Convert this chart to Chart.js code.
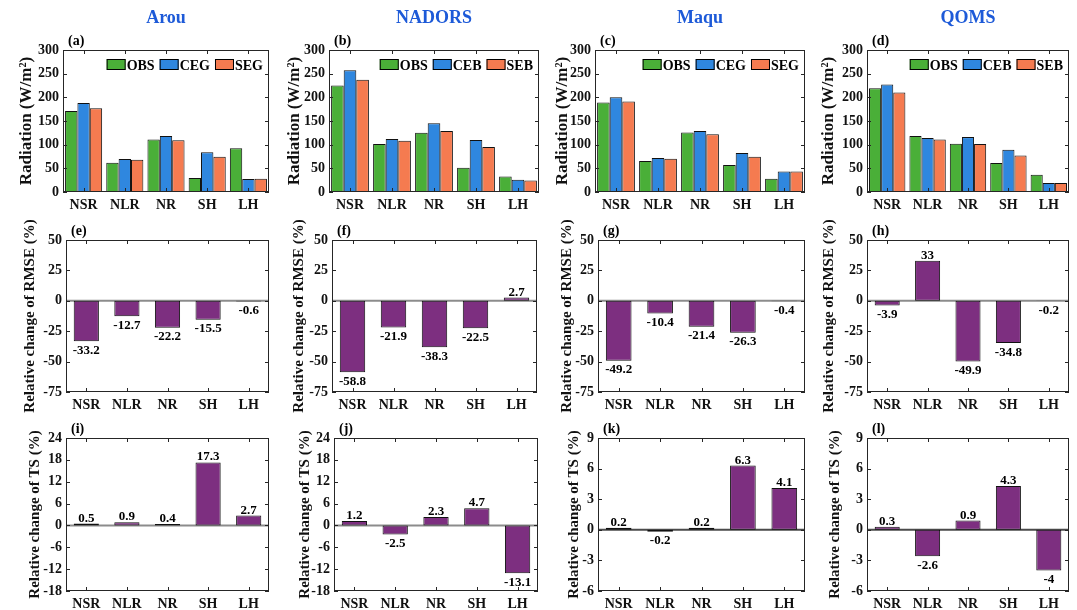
<!DOCTYPE html>
<html><head><meta charset="utf-8">
<script src="https://cdn.jsdelivr.net/npm/chart.js@4/dist/chart.umd.min.js"></script>
<style>
html,body{margin:0;padding:0;background:#fff;width:1077px;height:610px;overflow:hidden;}
#wrap{position:relative;width:1077px;height:610px;}
canvas{position:absolute;}
</style></head><body><div id="wrap"></div>
<script>
// ---------------- data ----------------
const categories = ['NSR', 'NLR', 'NR', 'SH', 'LH'];
const stations = ['Arou', 'NADORS', 'Maqu', 'QOMS'];
const panelLetters = [['(a)', '(b)', '(c)', '(d)'], ['(e)', '(f)', '(g)', '(h)'], ['(i)', '(j)', '(k)', '(l)']];
const legendNames = [['OBS', 'CEG', 'SEG'], ['OBS', 'CEB', 'SEB'], ['OBS', 'CEG', 'SEG'], ['OBS', 'CEB', 'SEB']];

const obsArou = [171, 62, 111, 29.5, 92.5];
const ceArou = [188, 69.5, 118.5, 84, 27.5];
const seArou = [177, 68, 109.5, 74.5, 28];
const obsNadors = [225, 101.5, 125, 51, 32.5];
const ceNadors = [257, 112, 145, 110, 26];
const seNadors = [237, 108.5, 129, 95, 24.5];
const obsMaqu = [189, 65.5, 125.5, 57, 28];
const ceMaqu = [200, 72, 129, 82.5, 43.5];
const seMaqu = [191, 70, 122, 74.5, 43.5];
const obsQoms = [219, 118.5, 102, 61.5, 36.5];
const ceQoms = [227, 114, 116, 89, 19];
const seQoms = [210, 111, 101.5, 77, 19];

const rmseArou = [-33.2, -12.7, -22.2, -15.5, -0.6];
const rmseNadors = [-58.8, -21.9, -38.3, -22.5, 2.7];
const rmseMaqu = [-49.2, -10.4, -21.4, -26.3, -0.4];
const rmseQoms = [-3.9, 33, -49.9, -34.8, -0.2];

const tsArou = [0.5, 0.9, 0.4, 17.3, 2.7];
const tsNadors = [1.2, -2.5, 2.3, 4.7, -13.1];
const tsMaqu = [0.2, -0.2, 0.2, 6.3, 4.1];
const tsQoms = [0.3, -2.6, 0.9, 4.3, -4];

const radiationTicks = [0, 50, 100, 150, 200, 250, 300];
const rmseTicks = [-75, -50, -25, 0, 25, 50];
const tsTicksWide = [-18, -12, -6, 0, 6, 12, 18, 24];
const tsTicksNarrow = [-6, -3, 0, 3, 6, 9];

const row1Title = 'Radiation (W/m²)';
const row2Title = 'Relative change of RMSE (%)';
const row3Title = 'Relative change of TS (%)';

// ---------------- layout / style ----------------
const FONT = "'Liberation Serif', 'Times New Roman', serif";
const COLORS = ['#4AAF38', '#2F87DF', '#F57B50'];
const PURPLE = '#7D2F80';
const AX = '#262626';
const geom = {
  rowTop: [50, 240, 438], rowBottom: [192, 392, 591],
  left: [[63, 329, 595, 867], [66, 332, 598, 867], [66, 334, 598, 867]],
  right: [[269, 539, 805, 1069], [269, 537, 805, 1069], [269, 538, 805, 1069]],
  titleOff: [[-36, -34, -32, -38], [-36, -33, -31, -38], [-31, -29, -24, -32]],
  topPad: [48, 30, 30]
};
const YW = 60, XH = 24, RP = 8;

const decor = {
  id: 'decor',
  beforeDatasetsDraw(chart, args, o) {
    if (!o.zeroLine) return;
    const { ctx, chartArea: a } = chart;
    const y0 = chart.scales.y.getPixelForValue(0);
    ctx.save();
    ctx.strokeStyle = o.zeroColor; ctx.lineWidth = 2;
    ctx.beginPath(); ctx.moveTo(a.left, y0); ctx.lineTo(a.right, y0); ctx.stroke();
    ctx.restore();
  },
  afterDatasetsDraw(chart, args, o) {
    const { ctx, chartArea: a } = chart;
    const xs = chart.scales.x, ys = chart.scales.y;
    ctx.save();
    // box
    ctx.strokeStyle = AX; ctx.lineWidth = 1;
    ctx.strokeRect(a.left + 0.5, a.top + 0.5, a.right - a.left - 1, a.bottom - a.top - 1);
    // inward ticks
    ctx.beginPath();
    const TL = 4;
    ys.ticks.forEach(t => {
      const y = Math.round(ys.getPixelForValue(t.value)) + 0.5;
      ctx.moveTo(a.left, y); ctx.lineTo(a.left + TL, y);
      ctx.moveTo(a.right, y); ctx.lineTo(a.right - TL, y);
    });
    categories.forEach((c, i) => {
      const x = Math.round(xs.getPixelForValue(i)) + 0.5;
      ctx.moveTo(x, a.bottom); ctx.lineTo(x, a.bottom - TL);
      ctx.moveTo(x, a.top); ctx.lineTo(x, a.top + TL);
    });
    ctx.stroke();
    // data labels
    if (o.values) {
      const meta = chart.getDatasetMeta(0);
      ctx.fillStyle = '#000';
      ctx.font = 'bold 13px ' + FONT;
      ctx.textAlign = 'center'; ctx.textBaseline = 'alphabetic';
      meta.data.forEach((bar, i) => {
        const v = o.values[i];
        if (v >= 0) ctx.fillText(String(v), bar.x, bar.y - 2);
        else ctx.fillText(String(v), bar.x, bar.y + 12.5);
      });
    }
    // legend
    if (o.legend) {
      ctx.font = 'bold 14px ' + FONT;
      ctx.textBaseline = 'alphabetic'; ctx.textAlign = 'left';
      const bw = 19, bh = 11, gap = 5;
      let widths = o.legend.map(n => bw + 1 + ctx.measureText(n).width);
      let total = widths.reduce((s, w) => s + w, 0) + gap * (widths.length - 1);
      let x = a.right - 6 - total;
      const by = a.top + 9;
      o.legend.forEach((n, i) => {
        ctx.fillStyle = COLORS[i];
        ctx.fillRect(x, by, bw, bh);
        ctx.strokeStyle = '#000'; ctx.lineWidth = 1;
        ctx.strokeRect(x + 0.5, by + 0.5, bw - 1, bh - 1);
        ctx.fillStyle = '#000';
        ctx.fillText(n, x + bw + 1, a.top + 19.5);
        x += widths[i] + gap;
      });
    }
    // panel letter
    ctx.fillStyle = '#000';
    ctx.font = 'bold 14px ' + FONT;
    ctx.textAlign = 'left'; ctx.textBaseline = 'alphabetic';
    ctx.fillText(o.letter, a.left + 5, a.top - 5);
    // station title
    if (o.station) {
      ctx.fillStyle = '#1D5AD8';
      ctx.font = 'bold 18px ' + FONT;
      ctx.textAlign = 'center';
      ctx.fillText(o.station, (a.left + a.right) / 2, a.top - 27);
    }
    ctx.restore();
  }
};

function makePanel(row, col, datasets, ticks, title, titleSize, extra) {
  const pl = geom.left[row][col], pr = geom.right[row][col];
  const pt = geom.rowTop[row], pb = geom.rowBottom[row];
  const T = geom.topPad[row];
  const cv = document.createElement('canvas');
  const W = (pr - pl) + YW + RP, H = T + (pb - pt) + XH;
  cv.width = W; cv.height = H;
  cv.style.width = W + 'px'; cv.style.height = H + 'px';
  cv.style.left = (pl - YW) + 'px'; cv.style.top = (pt - T) + 'px';
  document.getElementById('wrap').appendChild(cv);
  const titleCenter = YW + geom.titleOff[row][col];
  new Chart(cv, {
    type: 'bar',
    data: { labels: categories, datasets },
    plugins: [decor],
    options: {
      responsive: false, animation: false, devicePixelRatio: 1,
      layout: { padding: { top: T, right: RP, left: 0, bottom: 0 } },
      plugins: {
        legend: { display: false }, tooltip: { enabled: false }, title: { display: false },
        decor: Object.assign({ letter: panelLetters[row][col] }, extra)
      },
      scales: {
        x: {
          grid: { display: false, drawTicks: false }, border: { display: false },
          ticks: { padding: 5, color: '#111', font: { family: FONT, size: 14, weight: 'bold' }, maxRotation: 0, autoSkip: false },
          afterFit: s => { s.height = XH; }
        },
        y: {
          min: ticks[0], max: ticks[ticks.length - 1],
          grid: { display: false, drawTicks: false }, border: { display: false },
          ticks: { padding: 4, color: '#111', font: { family: FONT, size: 14, weight: 'bold' } },
          afterBuildTicks: s => { s.ticks = ticks.map(v => ({ value: v })); },
          afterFit: s => { s.width = YW; },
          title: {
            display: true, text: title, color: '#111',
            font: { family: FONT, size: titleSize, weight: 'bold', lineHeight: 1 },
            padding: { top: titleCenter - titleSize / 2, bottom: 0 }
          }
        }
      }
    }
  });
}

const rowObs = [obsArou, obsNadors, obsMaqu, obsQoms];
const rowCe = [ceArou, ceNadors, ceMaqu, ceQoms];
const rowSe = [seArou, seNadors, seMaqu, seQoms];
const rowRmse = [rmseArou, rmseNadors, rmseMaqu, rmseQoms];
const rowTs = [tsArou, tsNadors, tsMaqu, tsQoms];
const tsTickSets = [tsTicksWide, tsTicksWide, tsTicksNarrow, tsTicksNarrow];

function barDs(label, data, color, pct) {
  return {
    label, data, backgroundColor: color, borderColor: '#111', borderWidth: 1,
    borderSkipped: false, barPercentage: 1.0, categoryPercentage: pct
  };
}

for (let c = 0; c < 4; c++) {
  const names = legendNames[c];
  makePanel(0, c, [
    barDs(names[0], rowObs[c], COLORS[0], 0.9),
    barDs(names[1], rowCe[c], COLORS[1], 0.9),
    barDs(names[2], rowSe[c], COLORS[2], 0.9)
  ], radiationTicks, row1Title, 17, { legend: names, station: stations[c] });
  makePanel(1, c, [barDs('RMSE', rowRmse[c], PURPLE, 0.62)], rmseTicks, row2Title, 15,
    { values: rowRmse[c], zeroLine: true, zeroColor: '#8c8c8c' });
  makePanel(2, c, [barDs('TS', rowTs[c], PURPLE, 0.62)], tsTickSets[c], row3Title, 15,
    { values: rowTs[c], zeroLine: true, zeroColor: c >= 2 ? '#4a4a4a' : '#8c8c8c' });
}
</script>
</body></html>
